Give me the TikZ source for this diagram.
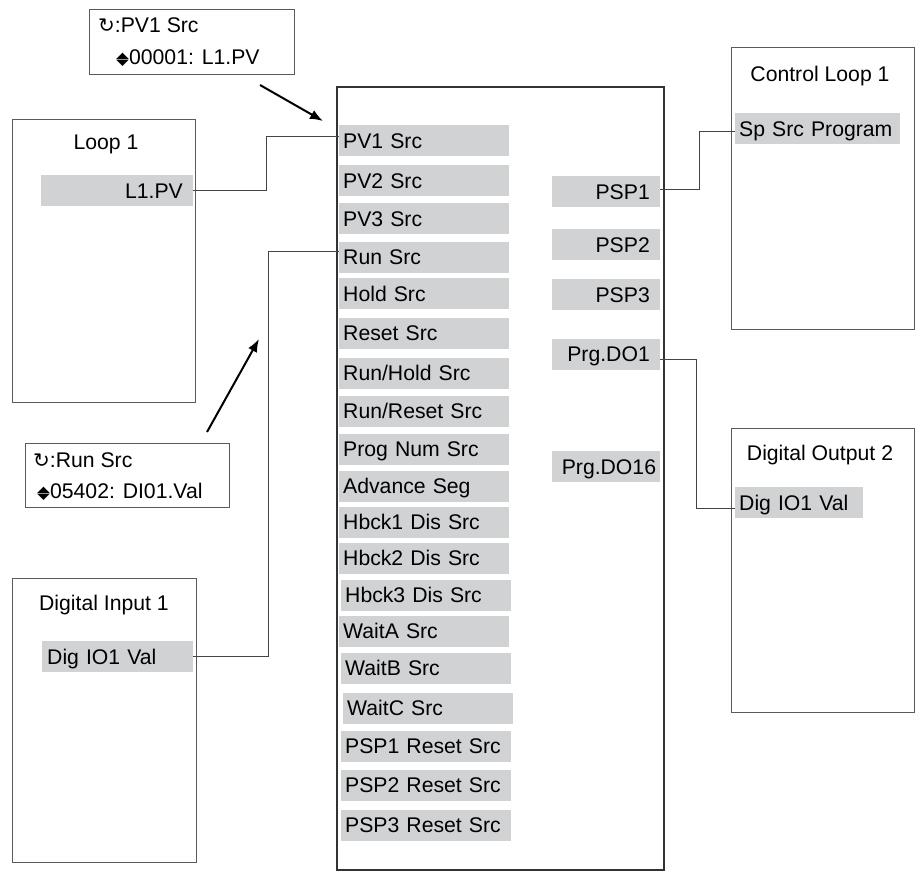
\documentclass[tikz,border=0pt]{standalone}
\usepackage{fontspec}
\setmainfont{Liberation Sans}
\newfontfamily\symfont{DejaVu Sans}
\usetikzlibrary{arrows.meta}

\definecolor{itemgray}{HTML}{D1D2D4}
\definecolor{framegray}{HTML}{5A5A5A}
\definecolor{wiregray}{HTML}{444444}

% значки на экране прибора
\newcommand{\scrollsym}{{\symfont\fontsize{20}{20}\selectfont ↻}}
\newcommand{\updownsym}{{\symfont\fontsize{12}{12}\selectfont
	\rlap{\raisebox{6.5pt}{\scalebox{1.4}[0.7]{▲}}}\raisebox{-0.5pt}{\scalebox{1.4}[0.7]{▼}}}}

\begin{document}
\begin{tikzpicture}[x=1pt, y=-1pt, font=\fontsize{21.2}{25}\selectfont,
	block/.style={draw=framegray, line width=1.2pt, anchor=north west, inner sep=0pt},
	title/.style={inner sep=0pt, text height=15.2pt, text depth=0pt},
	param/.style={fill=itemgray, minimum height=31pt, inner sep=0pt, inner xsep=4pt,
		text height=15.2pt, text depth=0pt, align=left, text width=162pt, anchor=west},
	rparam/.style={param, align=right, inner xsep=10pt, text width=88pt, anchor=east},
	wire/.style={draw=wiregray, line width=1pt},
	pointer/.style={line width=2pt, -{Latex[length=13pt, width=10pt]}}]

	% рамка картинки
	\useasboundingbox (0,0) rectangle (915,871);

	% блок программатора
	\node[block, draw=black!80, line width=2pt, minimum width=327pt, minimum height=783pt] (prog) at (336,86) {};

	\node[param] (pv1)     at (339,140.5) {PV1 Src};
	\node[param] (pv2)     at (339,180.5) {PV2 Src};
	\node[param] (pv3)     at (339,218.5) {PV3 Src};
	\node[param] (runsrc)  at (339,257)   {Run Src};
	\node[param] (hold)    at (339,293.5) {Hold Src};
	\node[param] (reset)   at (339,333)   {Reset Src};
	\node[param] (runhold) at (339,373)   {Run/Hold Src};
	\node[param] (runrst)  at (339,411)   {Run/Reset Src};
	\node[param] (prognum) at (339,449)   {Prog Num Src};
	\node[param] (advance) at (339,486)   {Advance Seg};
	\node[param] (hbck1)   at (339,522)   {Hbck1 Dis Src};
	\node[param] (hbck2)   at (339,558)   {Hbck2 Dis Src};
	\node[param] (hbck3)   at (341,595)   {Hbck3 Dis Src};
	\node[param] (waita)   at (339,631)   {WaitA Src};
	\node[param] (waitb)   at (341,668)   {WaitB Src};
	\node[param] (waitc)   at (343,708)   {WaitC Src};
	\node[param] (psp1rst) at (341,746)   {PSP1 Reset Src};
	\node[param] (psp2rst) at (341,785)   {PSP2 Reset Src};
	\node[param] (psp3rst) at (341,825)   {PSP3 Reset Src};

	\node[rparam] (psp1)    at (660,191.5) {PSP1};
	\node[rparam] (psp2)    at (660,244.5) {PSP2};
	\node[rparam] (psp3)    at (660,294.5) {PSP3};
	\node[rparam] (prgdo1)  at (660,354)   {Prg.DO1};
	\node[rparam] (prgdo16) at (660,466.5) {Prg.DO16};

	% контур 1
	\node[block, minimum width=183pt, minimum height=283pt] (loop) at (12,119) {};
	\node[title] (looptitle) at (106,142) {Loop 1};
	\node[rparam, text width=132pt] (l1pv) at (193,190.5) {L1.PV};

	% цифровой вход 1
	\node[block, minimum width=184pt, minimum height=284pt] (din) at (12,578) {};
	\node[title] (dintitle) at (104,603) {Digital Input 1};
	\node[param, inner xsep=5pt, text width=141pt] (dig1) at (42,656.5) {Dig IO1 Val};

	% контур управления 1
	\node[block, minimum width=183pt, minimum height=282pt] (cloop) at (731,47) {};
	\node[title] (clooptitle) at (820,74) {Control Loop 1};
	\node[param, text width=157pt] (spsrc) at (735,128.5) {Sp Src Program};

	% цифровой выход 2
	\node[block, minimum width=183pt, minimum height=284pt] (dout) at (731,428) {};
	\node[title] (douttitle) at (820,453) {Digital Output 2};
	\node[param, text width=120pt] (dig2) at (735,502.5) {Dig IO1 Val};

	% окна на экране
	\node[block, minimum width=205pt, minimum height=65pt] (pvpop) at (89,9) {};
	\node[title, anchor=west] (pvpop1) at (98,25) {\scrollsym:PV1 Src};
	\node[title, anchor=west] (pvpop2) at (116,57) {\updownsym00001: L1.PV};

	\node[block, minimum width=204pt, minimum height=64pt] (runpop) at (25,443) {};
	\node[title, anchor=west] (runpop1) at (33,460) {\scrollsym:Run Src};
	\node[title, anchor=west] (runpop2) at (37,491) {\updownsym05402: DI01.Val};

	% стрелки
	\coordinate (pvfrom) at (260,85);
	\coordinate (pvto) at (323,121);
	\draw[pointer] (pvfrom) -- (pvto);

	\coordinate (runfrom) at (207,432);
	\coordinate (runto) at (259,339);
	\draw[pointer] (runfrom) -- (runto);

	% связи
	\draw[wire] (l1pv.east) -- ++(73,0) |- ([yshift=4pt]pv1.west);
	\draw[wire] (dig1.east) -- ++(75,0) |- ([yshift=6pt]runsrc.west);
	\draw[wire] ([yshift=2.5pt]psp1.east) -- ++(39,0) |- ([yshift=-2.5pt]spsrc.west);
	\draw[wire] ([yshift=-5pt]prgdo1.east) -- ++(36,0) |- ([yshift=-6pt]dig2.west);
\end{tikzpicture}
\end{document}
